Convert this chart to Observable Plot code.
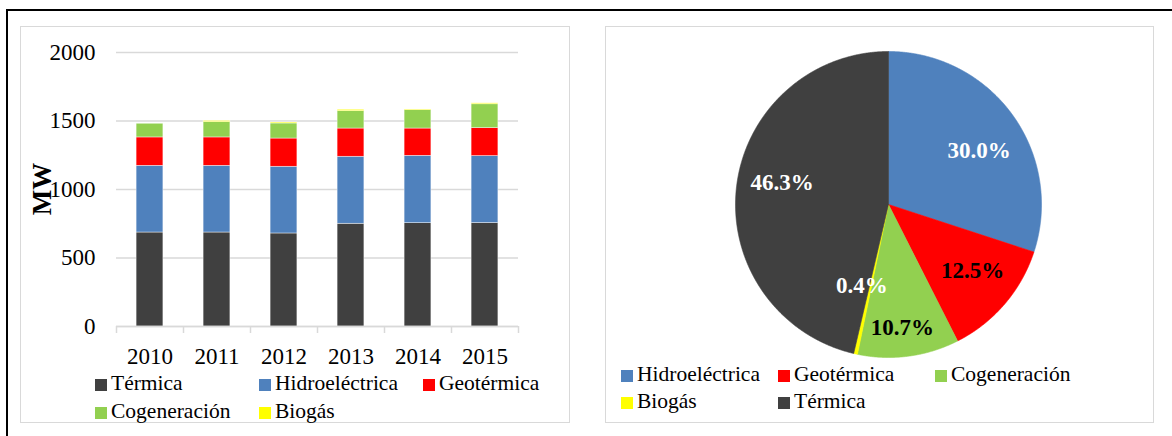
<!DOCTYPE html>
<html>
<head>
<meta charset="utf-8">
<script src="https://cdn.jsdelivr.net/npm/d3@7"></script>
<script src="https://cdn.jsdelivr.net/npm/@observablehq/plot@0.6"></script>
<style>
  html, body { margin: 0; padding: 0; background: #fff; }
  body { font-family: "Liberation Serif", "Times New Roman", serif; color: #000; }
  #page { position: relative; width: 1172px; height: 436px; overflow: hidden; }
  .frame { position: absolute; left: 6px; top: 9px; width: 1180px; height: 440px;
           border-top: 2px solid #000; border-left: 2px solid #000; box-sizing: border-box; }
  .panel { position: absolute; top: 26px; height: 397px; border: 1.5px solid #d9d9d9; box-sizing: border-box; }
  .chart { position: absolute; }
  .ylabel { position: absolute; font-family: "Liberation Serif", "Times New Roman", serif;
            font-weight: bold; font-size: 27px; white-space: nowrap;
            transform: translate(-50%, -50%) rotate(-90deg); }
  .legend-item { position: absolute; display: flex; align-items: center; height: 26px;
                 font-family: "Liberation Serif", "Times New Roman", serif;
                 font-size: 21.5px; white-space: nowrap; color: #000; }
  .legend-item .sw { display: inline-block; width: 12px; height: 12px; margin-right: 4px; margin-top: 3px; }
</style>
</head>
<body>
<div id="page">
  <div class="frame"></div>
  <div class="panel" style="left:20px;width:550px;"></div>
  <div class="panel" style="left:605px;width:549px;"></div>
</div>
<script>
// Installed capacity by source, MW
const years = ["2010", "2011", "2012", "2013", "2014", "2015"];
const series = ["Térmica", "Hidroeléctrica", "Geotérmica", "Cogeneración", "Biogás"];
const termica      = [686, 686, 679, 750, 754, 755];
const hidroelectrica = [487, 487, 487, 489, 492, 489];
const geotermica   = [207, 207, 206, 206, 199, 204];
const cogeneracion = [100, 112, 110, 127, 134, 174];
const biogas       = [0, 8, 7, 10, 5, 7];
const yTicks = [0, 500, 1000, 1500, 2000];

// Share of each source in 2015 (%)
const pieSeries = ["Hidroeléctrica", "Geotérmica", "Cogeneración", "Biogás", "Térmica"];
const pieShares = [30.0, 12.5, 10.7, 0.4, 46.3];

// Styling
const palette = {
  "Térmica": "#404040",
  "Hidroeléctrica": "#4f81bd",
  "Geotérmica": "#ff0000",
  "Cogeneración": "#92d050",
  "Biogás": "#ffff00"
};
const font = "'Liberation Serif', 'Times New Roman', serif";
const page = document.getElementById("page");

// ---- Stacked bar chart ----
const seriesValues = [termica, hidroelectrica, geotermica, cogeneracion, biogas];
const rows = [];
years.forEach((year, i) => {
  series.forEach((name, k) => rows.push({i, year, series: name, value: seriesValues[k][i]}));
});

const barPlot = Plot.plot({
  width: 550,
  height: 345,
  marginLeft: 96,
  marginRight: 52,
  marginTop: 26,
  marginBottom: 45,
  style: {fontFamily: font, fontSize: "23px", color: "#000", background: "transparent", overflow: "visible"},
  x: {type: "linear", domain: [0, years.length], label: null},
  y: {domain: [0, 2000], label: null},
  color: {domain: series, range: series.map(s => palette[s])},
  marks: [
    Plot.gridY(yTicks, {stroke: "#d9d9d9", strokeOpacity: 1, strokeWidth: 1.5}),
    Plot.rectY(rows, Plot.stackY({
      x1: d => d.i + 0.3,
      x2: d => d.i + 0.7,
      y: "value",
      fill: "series",
      order: series,
      stroke: "#ffffff",
      strokeWidth: 0.6,
      strokeOpacity: 0.7
    })),
    Plot.ruleY([0], {stroke: "#d9d9d9", strokeWidth: 1.5}),
    Plot.axisX(d3.range(years.length + 1), {tickSize: 7, stroke: "#d9d9d9", strokeWidth: 1.5, tickFormat: () => "", label: null}),
    Plot.axisX(years.map((_, i) => i + 0.5), {tickSize: 0, tickPadding: 21, tickFormat: v => years[Math.floor(v)], label: null}),
    Plot.axisY(yTicks, {tickSize: 0, tickPadding: 21, tickFormat: d => String(d), label: null})
  ]
});
barPlot.classList.add("chart");
barPlot.style.left = "20px";
barPlot.style.top = "26px";
page.appendChild(barPlot);

const ylab = document.createElement("div");
ylab.className = "ylabel";
ylab.textContent = "MW";
ylab.style.left = "42px";
ylab.style.top = "189px";
page.appendChild(ylab);

// ---- Pie chart ----
const arcs = d3.pie().sort(null).value(d => d)(pieShares);
const piePts = [];
arcs.forEach((a, k) => {
  const name = pieSeries[k];
  piePts.push({name, x: 0, y: 0});
  const n = Math.max(2, Math.ceil((a.endAngle - a.startAngle) / 0.005));
  for (let j = 0; j <= n; j++) {
    const t = a.startAngle + (a.endAngle - a.startAngle) * j / n;
    piePts.push({name, x: Math.sin(t), y: Math.cos(t)});
  }
  piePts.push({name, x: 0, y: 0});
});

// label placement: fraction of the radius along each slice's mid angle
const labelRadius = {"Hidroeléctrica": 0.69, "Geotérmica": 0.70, "Cogeneración": 0.81, "Biogás": 0.56, "Térmica": 0.71};
const labelAngleShift = {"Hidroeléctrica": 0.09, "Geotérmica": -0.04, "Cogeneración": 0.02, "Biogás": 0.1, "Térmica": 0.09};
const darkText = new Set(["Geotérmica", "Cogeneración"]);
const labels = arcs.map((a, k) => {
  const name = pieSeries[k];
  const mid = (a.startAngle + a.endAngle) / 2 + labelAngleShift[name];
  const r = labelRadius[name];
  return {name, x: r * Math.sin(mid), y: r * Math.cos(mid), text: pieShares[k].toFixed(1) + "%"};
});

const piePlot = Plot.plot({
  width: 548,
  height: 335,
  marginLeft: 130,
  marginRight: 112,
  marginTop: 25,
  marginBottom: 4,
  style: {fontFamily: font, background: "transparent", overflow: "visible"},
  x: {domain: [-1, 1], axis: null},
  y: {domain: [-1, 1], axis: null},
  color: {domain: series, range: series.map(s => palette[s])},
  marks: [
    Plot.line(piePts, {x: "x", y: "y", z: "name", fill: "name", stroke: "name", strokeWidth: 0.6, curve: "linear"}),
    Plot.text(labels.filter(d => !darkText.has(d.name)), {x: "x", y: "y", text: "text", fill: "#ffffff", fontWeight: "bold", fontSize: 23}),
    Plot.text(labels.filter(d => darkText.has(d.name)), {x: "x", y: "y", text: "text", fill: "#000000", fontWeight: "bold", fontSize: 23})
  ]
});
piePlot.classList.add("chart");
piePlot.style.left = "605px";
piePlot.style.top = "26px";
page.appendChild(piePlot);

// ---- Legends ----
function legend(names, cols, rowsY) {
  names.forEach((name, k) => {
    const item = document.createElement("div");
    item.className = "legend-item";
    item.style.left = cols[k % cols.length] + "px";
    item.style.top = (rowsY[Math.floor(k / cols.length)] - 13) + "px";
    const sw = document.createElement("span");
    sw.className = "sw";
    sw.style.background = palette[name];
    const tx = document.createElement("span");
    tx.textContent = name;
    item.appendChild(sw);
    item.appendChild(tx);
    page.appendChild(item);
  });
}
legend(series, [95, 259, 423], [383, 411]);
legend(pieSeries, [621, 778, 935], [374, 401]);
</script>
</body>
</html>
